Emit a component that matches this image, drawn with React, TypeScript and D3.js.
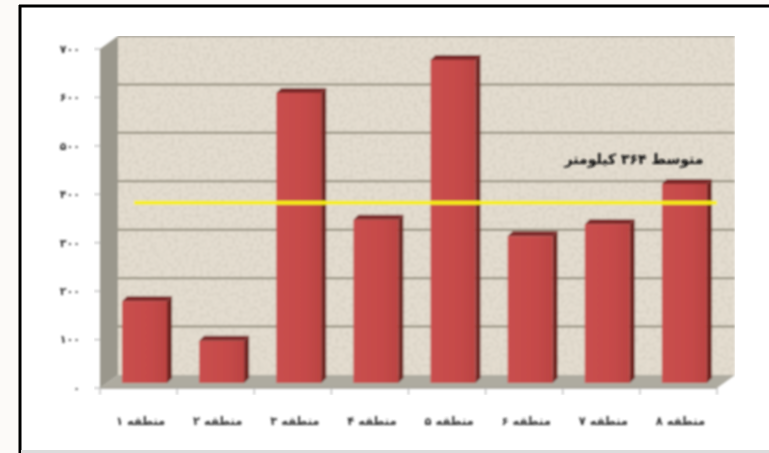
import React from "react";
import * as d3 from "d3";

const categories = ["منطقه ۱", "منطقه ۲", "منطقه ۳", "منطقه ۴", "منطقه ۵", "منطقه ۶", "منطقه ۷", "منطقه ۸"];
const values = [169, 87, 599, 337, 667, 303, 328, 411];
const averageLine = [372, 372, 372, 372, 372, 372, 372, 372];
const yTicks = [0, 100, 200, 300, 400, 500, 600, 700];
const averageLabel = "متوسط ۳۶۴ کیلومتر";

const WIDTH = 769;
const HEIGHT = 453;
const DEPTH_X = 18;
const DEPTH_Y = 13;
const BAR_DX = 5;
const BAR_DY = 5;

const toPersian = (n: number) => String(n).replace(/\d/g, (d) => "۰۱۲۳۴۵۶۷۸۹"[+d]);

const pts = (list: number[][]) => list.map((p) => p.join(",")).join(" ");

export default function App() {
	// axis scale is on the front edge of the floor, bars stand a little behind it
	const y = d3.scaleLinear().domain([0, 700]).range([388, 49]);
	const yBar = d3.scaleLinear().domain([0, 700]).range([383, 44]);
	const x = d3.scaleBand<string>().domain(categories).range([100, 717]).paddingInner(0);
	const barLeft = (c: string) => (x(c) as number) + 22;
	const barW = 45;

	const xLine = d3.scalePoint<string>().domain(categories).range([134, 717]);
	const line = d3
		.line<number>()
		.x((_, i) => xLine(categories[i]) as number)
		.y((d) => yBar(d));

	const left = 100;
	const right = 717;
	const floorY = y(0);
	const topY = y(700);

	return (
		<svg
			width={WIDTH}
			height={HEIGHT}
			style={{ position: "fixed", left: 0, top: 0, display: "block" }}
			fontFamily="'DejaVu Sans', 'Noto Sans', sans-serif">
			<defs>
				<filter id="soft" x="0" y="0" width="100%" height="100%">
					<feGaussianBlur stdDeviation="0.95" />
				</filter>
				<filter id="softFrame" filterUnits="userSpaceOnUse" x="0" y="0" width={WIDTH} height={HEIGHT}>
					<feGaussianBlur stdDeviation="0.45" />
				</filter>
				<filter id="softText" filterUnits="userSpaceOnUse" x="0" y="0" width={WIDTH} height={HEIGHT}>
					<feGaussianBlur stdDeviation="0.85" />
				</filter>
				<filter id="speckle" x="0" y="0" width="100%" height="100%">
					<feTurbulence type="fractalNoise" baseFrequency="0.28" numOctaves="2" seed="4" />
					<feColorMatrix values="0 0 0 0 0.55  0 0 0 0 0.5  0 0 0 0 0.42  0.9 0 0 0 -0.36" />
				</filter>
				<linearGradient id="barFront" x1="0" x2="1" y1="0" y2="0">
					<stop offset="0" stopColor="#c94f4e" />
					<stop offset="0.6" stopColor="#c64a49" />
					<stop offset="1" stopColor="#bb4342" />
				</linearGradient>
			</defs>

			<rect width={WIDTH} height={HEIGHT} fill="#fcfaf8" />
			<rect x={20} y={6} width={WIDTH - 20} height={HEIGHT - 6} fill="#ffffff" />

			{/* frame */}
			<g filter="url(#softFrame)">
				<line x1={19} x2={WIDTH} y1={6} y2={6} stroke="#000" strokeWidth={3} />
				<line x1={20} x2={20} y1={5} y2={HEIGHT} stroke="#000" strokeWidth={3} />
				<line x1={21} x2={WIDTH} y1={451.5} y2={451.5} stroke="#dcdcdc" strokeWidth={3} />
			</g>

			<g filter="url(#soft)">
				{/* walls */}
				<rect x={left + DEPTH_X} y={topY - DEPTH_Y} width={right - left} height={floorY - topY} fill="#e4ddd0" />
				<rect
					x={left + DEPTH_X}
					y={topY - DEPTH_Y}
					width={right - left}
					height={floorY - topY}
					filter="url(#speckle)"
				/>
				<polygon
					points={pts([
						[left, topY],
						[left + DEPTH_X, topY - DEPTH_Y],
						[left + DEPTH_X, floorY - DEPTH_Y],
						[left, floorY]
					])}
					fill="#9a978c"
				/>
				<polygon
					points={pts([
						[left, floorY],
						[left + DEPTH_X, floorY - DEPTH_Y],
						[right + DEPTH_X, floorY - DEPTH_Y],
						[right, floorY]
					])}
					fill="#aeaba0"
				/>

				{/* gridlines */}
				{yTicks.slice(1).map((t) => (
					<line
						key={t}
						x1={left + DEPTH_X}
						x2={right + DEPTH_X}
						y1={y(t) - DEPTH_Y}
						y2={y(t) - DEPTH_Y}
						stroke={t === 700 ? "#8f8c82" : "#8f8a79"}
						strokeWidth={2}
					/>
				))}

				{/* axis ticks */}
				{yTicks.map((t) => (
					<line key={t} x1={94} x2={left} y1={y(t)} y2={y(t)} stroke="#b4b4b4" strokeWidth={1.2} />
				))}
				<line x1={left} x2={right} y1={floorY} y2={floorY} stroke="#a09e95" strokeWidth={1.5} />
				{categories.concat("end").map((c, i) => {
					const px = i < categories.length ? (x(c) as number) : right;
					return <line key={c} x1={px} x2={px} y1={floorY} y2={floorY + 7} stroke="#b4b4b4" strokeWidth={1.2} />;
				})}

				{/* bars */}
				{categories.map((c, i) => {
					const bx = barLeft(c);
					const top = yBar(values[i]);
					const base = yBar(0);
					return (
						<g key={c}>
							<polygon
								points={pts([
									[bx + barW, top],
									[bx + barW + BAR_DX, top - BAR_DY],
									[bx + barW + BAR_DX, base - BAR_DY],
									[bx + barW, base]
								])}
								fill="#702524"
							/>
							<polygon
								points={pts([
									[bx, top],
									[bx + BAR_DX, top - BAR_DY],
									[bx + barW + BAR_DX, top - BAR_DY],
									[bx + barW, top]
								])}
								fill="#7d2a29"
							/>
							<rect x={bx} y={top} width={barW} height={base - top} fill="url(#barFront)" />
						</g>
					);
				})}

				{/* average line */}
				<path d={line(averageLine) as string} fill="none" stroke="#f7ee0c" strokeWidth={4} />
			</g>

			<g filter="url(#softText)" fill="#333" fontWeight="bold">
				{yTicks.map((t) => (
					<text key={t} x={80} y={y(t)} dy="0.35em" fontSize={11} textAnchor="end" letterSpacing={5}>
						{toPersian(t)}
					</text>
				))}
				{categories.map((c) => (
					<text
						key={c}
						x={(x(c) as number) + x.bandwidth() / 2 + 2}
						y={421}
						dy="0.35em"
						fontSize={11.5}
						textAnchor="middle"
						style={{ direction: "rtl" }}>
						{c}
					</text>
				))}
				<text x={634} y={159} dy="0.35em" fontSize={14} textAnchor="middle" fill="#111" style={{ direction: "rtl" }}>
					{averageLabel}
				</text>
			</g>
		</svg>
	);
}
